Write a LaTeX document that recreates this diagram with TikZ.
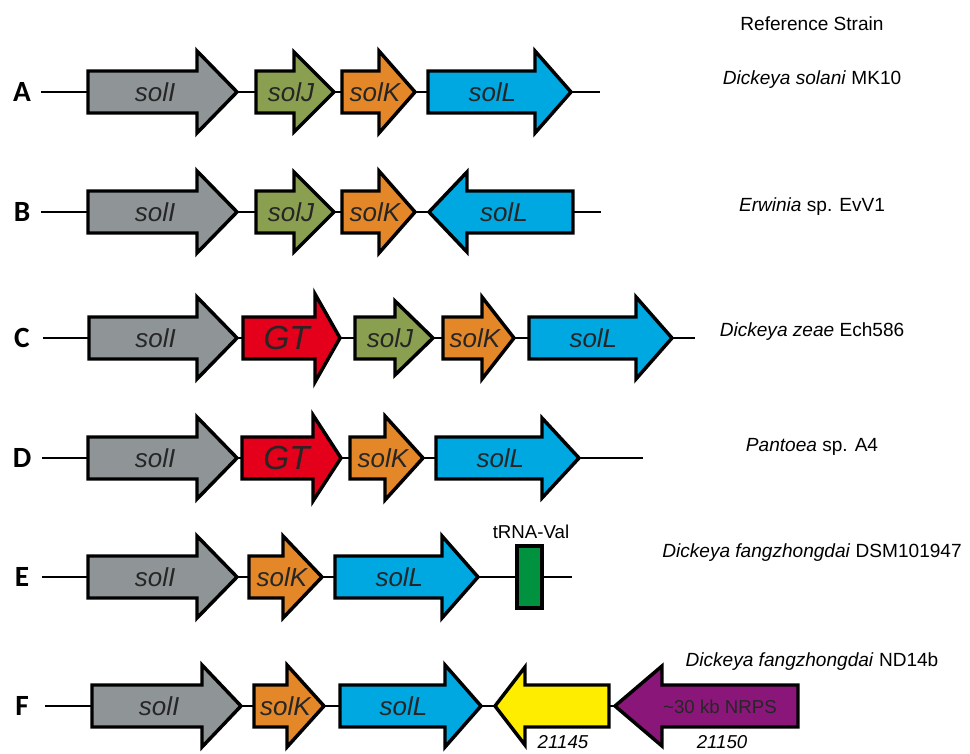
\documentclass[tikz,border=0pt]{standalone}
\usepackage{fontspec}
\setmainfont{Liberation Sans}
\newfontfamily\letterfont{Carlito}
\usetikzlibrary{positioning}
\definecolor{SolGrey}{RGB}{143,149,151}
\definecolor{SolGreen}{RGB}{138,160,80}
\definecolor{SolOrange}{RGB}{228,135,40}
\definecolor{SolBlue}{RGB}{0,168,226}
\definecolor{GTRed}{RGB}{228,0,27}
\definecolor{HypYellow}{RGB}{255,237,0}
\definecolor{NRPSPurple}{RGB}{138,22,122}
\definecolor{TRNAGreen}{RGB}{0,146,63}
\tikzset{
  backbone/.style={line width=2pt,draw=black},
  genebox/.style={line width=2.6pt,draw=black,line join=miter},
  genelabel/.style={inner sep=0pt,text=black!85,font=\fontsize{19.5}{20}\selectfont\itshape},
  rowletter/.style={inner sep=0pt,font=\letterfont\fontsize{22}{23}\selectfont\bfseries},
  strain/.style={inner sep=0pt,font=\fontsize{14.3}{15}\selectfont},
  smalllabel/.style={inner sep=0pt,font=\fontsize{14}{15}\selectfont},
  trnabox/.style={draw=black,line width=2.6pt,fill=TRNAGreen,
    minimum width=18.75pt,minimum height=46.5pt,inner sep=0pt}
}
% forward gene: name, y, back, head base, tip, head half, fill, label
\newcommand{\genefwd}[8]{%
  \draw[genebox,#7] (#3,#2-21) -- (#4,#2-21) -- (#4,#2-#6) -- (#5,#2)
    -- (#4,#2+#6) -- (#4,#2+21) -- (#3,#2+21) -- cycle;
  \node[genelabel] (#1) at ({#3+0.45*(#5-#3)},#2) {#8};
}
% reverse gene: name, y, tip, head base, back, head half, fill, label
\newcommand{\generev}[8]{%
  \draw[genebox,#7] (#3,#2) -- (#4,#2-#6) -- (#4,#2-21) -- (#5,#2-21)
    -- (#5,#2+21) -- (#4,#2+21) -- (#4,#2+#6) -- cycle;
  \node[genelabel] (#1) at ({#3+0.52*(#5-#3)},#2) {#8};
}
\newcommand{\GT}{{\fontsize{25}{26}\selectfont GT}}

\begin{document}
\begin{tikzpicture}[x=0.75pt,y=-0.75pt]
  \useasboundingbox (0,0) rectangle (970,753);

  \node[strain] (refhead) at (812,24) {Reference Strain};

  % row A
  \node[rowletter] (rowA) at (22,92) {A};
  \coordinate (A-s) at (41,92);
  \coordinate (A-e) at (600,92);
  \draw[backbone] (A-s) -- (A-e);
  \genefwd{A-solI}{92}{88}{197}{237}{41}{fill=SolGrey}{solI}
  \genefwd{A-solJ}{92}{256}{294}{334}{40}{fill=SolGreen}{solJ}
  \genefwd{A-solK}{92}{342}{379}{415}{41}{fill=SolOrange}{solK}
  \genefwd{A-solL}{92}{428}{535}{571}{41}{fill=SolBlue}{solL}
  \node[strain] (strainA) at (812,80) {\textit{Dickeya solani} MK10};

  % row B
  \node[rowletter] (rowB) at (22,212) {B};
  \coordinate (B-s) at (41,212);
  \coordinate (B-e) at (601,212);
  \draw[backbone] (B-s) -- (B-e);
  \genefwd{B-solI}{212}{88}{197}{237}{41}{fill=SolGrey}{solI}
  \genefwd{B-solJ}{212}{256}{294}{334}{40}{fill=SolGreen}{solJ}
  \genefwd{B-solK}{212}{342}{379}{415}{41}{fill=SolOrange}{solK}
  \generev{B-solL}{212}{429}{467}{573}{40}{fill=SolBlue}{solL}
  \node[strain] (strainB) at (812,207) {\textit{Erwinia} sp. EvV1};

  % row C
  \node[rowletter] (rowC) at (22,338) {C};
  \coordinate (C-s) at (43,338);
  \coordinate (C-e) at (695,338);
  \draw[backbone] (C-s) -- (C-e);
  \genefwd{C-solI}{338}{89}{197}{237}{41}{fill=SolGrey}{solI}
  \genefwd{C-GT}{338}{243}{315}{340}{44}{fill=GTRed}{\GT}
  \genefwd{C-solJ}{338}{355}{395}{433}{37}{fill=SolGreen}{solJ}
  \genefwd{C-solK}{338}{443}{482}{514}{41}{fill=SolOrange}{solK}
  \genefwd{C-solL}{338}{529}{636}{672}{41}{fill=SolBlue}{solL}
  \node[strain] (strainC) at (812,332) {\textit{Dickeya zeae} Ech586};

  % row D
  \node[rowletter] (rowD) at (22,458) {D};
  \coordinate (D-s) at (42,458);
  \coordinate (D-e) at (643,458);
  \draw[backbone] (D-s) -- (D-e);
  \genefwd{D-solI}{458}{88}{197}{237}{41}{fill=SolGrey}{solI}
  \genefwd{D-GT}{458}{242}{313}{341}{43}{fill=GTRed}{\GT}
  \genefwd{D-solK}{458}{350}{385}{423}{42}{fill=SolOrange}{solK}
  \genefwd{D-solL}{458}{436}{542}{579}{40}{fill=SolBlue}{solL}
  \node[strain] (strainD) at (812,447) {\textit{Pantoea} sp. A4};

  % row E
  \node[rowletter] (rowE) at (22,577) {E};
  \coordinate (E-s) at (42,577);
  \coordinate (E-e) at (572,577);
  \draw[backbone] (E-s) -- (E-e);
  \genefwd{E-solI}{577}{88}{197}{237}{41}{fill=SolGrey}{solI}
  \genefwd{E-solK}{577}{249}{283}{322}{41}{fill=SolOrange}{solK}
  \genefwd{E-solL}{577}{335}{442}{478}{41}{fill=SolBlue}{solL}
  \node[trnabox] (trna) at (529.5,577) {};
  \node[smalllabel] (trnalabel) at (531,532) {tRNA-Val};
  \node[strain] (strainE) at (812,553) {\textit{Dickeya fangzhongdai} DSM101947};

  % row F
  \node[rowletter] (rowF) at (22,706) {F};
  \coordinate (F-s) at (45,706);
  \coordinate (F-e) at (798,706);
  \draw[backbone] (F-s) -- (F-e);
  \genefwd{F-solI}{706}{92}{202}{241}{41}{fill=SolGrey}{solI}
  \genefwd{F-solK}{706}{254}{287}{324}{41}{fill=SolOrange}{solK}
  \genefwd{F-solL}{706}{340}{445}{481}{41}{fill=SolBlue}{solL}
  \generev{F-21145}{706}{495}{525}{609}{39}{fill=HypYellow}{}
  \generev{F-NRPS}{706}{615}{662}{798}{40}{fill=NRPSPurple}{}
  \node[smalllabel,text=black!85] (nrpslabel) at (720,707) {\textasciitilde30 kb NRPS};
  \node[smalllabel,font=\fontsize{14}{15}\selectfont\itshape] (lab21145) at (563,742) {21145};
  \node[smalllabel,font=\fontsize{14}{15}\selectfont\itshape] (lab21150) at (722,742) {21150};
  \node[strain] (strainF) at (812,662) {\textit{Dickeya fangzhongdai} ND14b};
\end{tikzpicture}
\end{document}
